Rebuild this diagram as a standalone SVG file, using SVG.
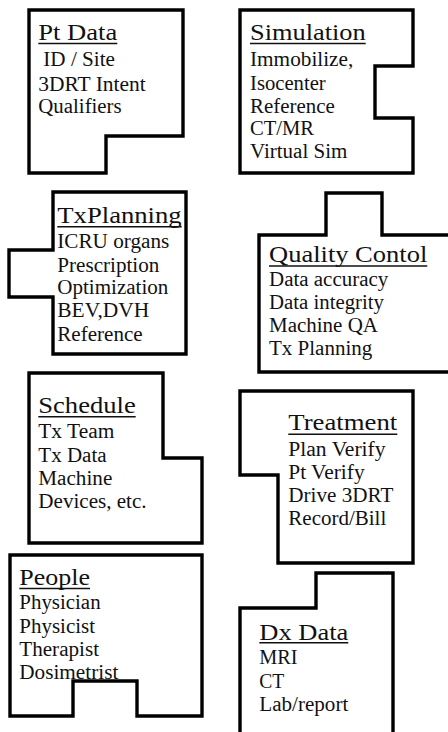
<svg xmlns="http://www.w3.org/2000/svg" width="448" height="732" viewBox="0 0 448 732">
  <style>
    .box { fill: #ffffff; stroke: #000000; stroke-width: 3.4; stroke-linejoin: miter; }
    .title { font-family: "Liberation Serif", "Times New Roman", serif; font-size: 23px; fill: #111111; }
    .item { font-family: "Liberation Serif", "Times New Roman", serif; font-size: 20px; fill: #111111; }
    .ul { stroke: #111111; stroke-width: 1.4; }
  </style>
  <rect x="0" y="0" width="448" height="732" fill="#ffffff"/>

  <g id="connectors"></g>

  <!-- Pt Data -->
  <g id="pt-data">
    <path class="box" d="M29,10 H183 V136 H106 V173 H29 Z"/>
    <text class="title" x="38.3" y="40" textLength="79" lengthAdjust="spacingAndGlyphs">Pt Data</text>
    <line class="ul" x1="38.3" y1="43.5" x2="117.3" y2="43.5"/>
    <text class="item" x="43.3" y="65.5" textLength="71.7" lengthAdjust="spacingAndGlyphs">ID / Site</text>
    <text class="item" x="38.3" y="90.5" textLength="107.4" lengthAdjust="spacingAndGlyphs">3DRT Intent</text>
    <text class="item" x="38.3" y="112.7" textLength="83.4" lengthAdjust="spacingAndGlyphs">Qualifiers</text>
  </g>

  <!-- Simulation -->
  <g id="simulation">
    <path class="box" d="M240,10 H413 V66 H375 V118 H413 V173 H240 Z"/>
    <text class="title" x="250" y="40" textLength="115.7" lengthAdjust="spacingAndGlyphs">Simulation</text>
    <line class="ul" x1="250" y1="43.5" x2="365.7" y2="43.5"/>
    <text class="item" x="250" y="66" textLength="103.3" lengthAdjust="spacingAndGlyphs">Immobilize,</text>
    <text class="item" x="250" y="90" textLength="75.7" lengthAdjust="spacingAndGlyphs">Isocenter</text>
    <text class="item" x="250" y="112.7" textLength="84.7" lengthAdjust="spacingAndGlyphs">Reference</text>
    <text class="item" x="250" y="135" textLength="64" lengthAdjust="spacingAndGlyphs">CT/MR</text>
    <text class="item" x="250" y="158.3" textLength="97.3" lengthAdjust="spacingAndGlyphs">Virtual Sim</text>
  </g>

  <!-- TxPlanning -->
  <g id="tx-planning">
    <path class="box" d="M53,192 H186 V354 H53 V297 H9 V250 H53 Z"/>
    <text class="title" x="57.3" y="223.3" textLength="124.4" lengthAdjust="spacingAndGlyphs">TxPlanning</text>
    <line class="ul" x1="57.3" y1="226.8" x2="181.7" y2="226.8"/>
    <text class="item" x="57.3" y="248.3" textLength="112" lengthAdjust="spacingAndGlyphs">ICRU organs</text>
    <text class="item" x="57.3" y="271.7" textLength="102" lengthAdjust="spacingAndGlyphs">Prescription</text>
    <text class="item" x="57.3" y="294" textLength="111" lengthAdjust="spacingAndGlyphs">Optimization</text>
    <text class="item" x="57.3" y="316.7" textLength="92" lengthAdjust="spacingAndGlyphs">BEV,DVH</text>
    <text class="item" x="57.3" y="340.7" textLength="85.3" lengthAdjust="spacingAndGlyphs">Reference</text>
  </g>

  <!-- Quality Contol -->
  <g id="quality-control">
    <path class="box" d="M259,235 H326 V193 H382 V235 H460 V372 H259 Z"/>
    <text class="title" x="269" y="261.5" textLength="158.3" lengthAdjust="spacingAndGlyphs">Quality Contol</text>
    <line class="ul" x1="269" y1="266" x2="427.3" y2="266"/>
    <text class="item" x="269" y="286" textLength="119.3" lengthAdjust="spacingAndGlyphs">Data accuracy</text>
    <text class="item" x="269" y="309.3" textLength="115" lengthAdjust="spacingAndGlyphs">Data integrity</text>
    <text class="item" x="269" y="332.3" textLength="109" lengthAdjust="spacingAndGlyphs">Machine QA</text>
    <text class="item" x="269" y="355" textLength="103.3" lengthAdjust="spacingAndGlyphs">Tx Planning</text>
  </g>

  <!-- Schedule -->
  <g id="schedule">
    <path class="box" d="M29,373 H163 V458 H202 V543 H29 Z"/>
    <text class="title" x="38.3" y="413.3" textLength="97.4" lengthAdjust="spacingAndGlyphs">Schedule</text>
    <line class="ul" x1="38.3" y1="416.8" x2="135.7" y2="416.8"/>
    <text class="item" x="38.3" y="438.3" textLength="76" lengthAdjust="spacingAndGlyphs">Tx Team</text>
    <text class="item" x="38.3" y="461.7" textLength="68.3" lengthAdjust="spacingAndGlyphs">Tx Data</text>
    <text class="item" x="38.3" y="485" textLength="74" lengthAdjust="spacingAndGlyphs">Machine</text>
    <text class="item" x="38.3" y="507.7" textLength="108.3" lengthAdjust="spacingAndGlyphs">Devices, etc.</text>
  </g>

  <!-- Treatment -->
  <g id="treatment">
    <path class="box" d="M240,391 H413 V563 H278 V475 H240 Z"/>
    <text class="title" x="288.3" y="430" textLength="109" lengthAdjust="spacingAndGlyphs">Treatment</text>
    <line class="ul" x1="288.3" y1="434.3" x2="397.3" y2="434.3"/>
    <text class="item" x="288.3" y="456" textLength="97.3" lengthAdjust="spacingAndGlyphs">Plan Verify</text>
    <text class="item" x="288.3" y="479" textLength="76.3" lengthAdjust="spacingAndGlyphs">Pt Verify</text>
    <text class="item" x="288.3" y="502.3" textLength="105" lengthAdjust="spacingAndGlyphs">Drive 3DRT</text>
    <text class="item" x="288.3" y="525" textLength="98" lengthAdjust="spacingAndGlyphs">Record/Bill</text>
  </g>

  <!-- People -->
  <g id="people">
    <path class="box" d="M10,555 H202 V716 H137 V681 H73 V716 H10 Z"/>
    <text class="title" x="19.3" y="585" textLength="70.7" lengthAdjust="spacingAndGlyphs">People</text>
    <line class="ul" x1="19.3" y1="588.5" x2="90" y2="588.5"/>
    <text class="item" x="19.3" y="609.3" textLength="81.3" lengthAdjust="spacingAndGlyphs">Physician</text>
    <text class="item" x="19.3" y="632.7" textLength="75.7" lengthAdjust="spacingAndGlyphs">Physicist</text>
    <text class="item" x="19.3" y="656" textLength="79.7" lengthAdjust="spacingAndGlyphs">Therapist</text>
    <text class="item" x="19.3" y="679.3" textLength="99" lengthAdjust="spacingAndGlyphs">Dosimetrist</text>
  </g>

  <!-- Dx Data (runs off the bottom edge) -->
  <g id="dx-data">
    <path class="box" d="M240,745 V608 H316 V573 H393 V745 Z"/>
    <text class="title" x="259.3" y="640" textLength="89" lengthAdjust="spacingAndGlyphs">Dx Data</text>
    <line class="ul" x1="259.3" y1="642.8" x2="348.3" y2="642.8"/>
    <text class="item" x="259.3" y="664.3" textLength="38.3" lengthAdjust="spacingAndGlyphs">MRI</text>
    <text class="item" x="259.3" y="687.7" textLength="25" lengthAdjust="spacingAndGlyphs">CT</text>
    <text class="item" x="259.3" y="710.7" textLength="89" lengthAdjust="spacingAndGlyphs">Lab/report</text>
  </g>
</svg>
